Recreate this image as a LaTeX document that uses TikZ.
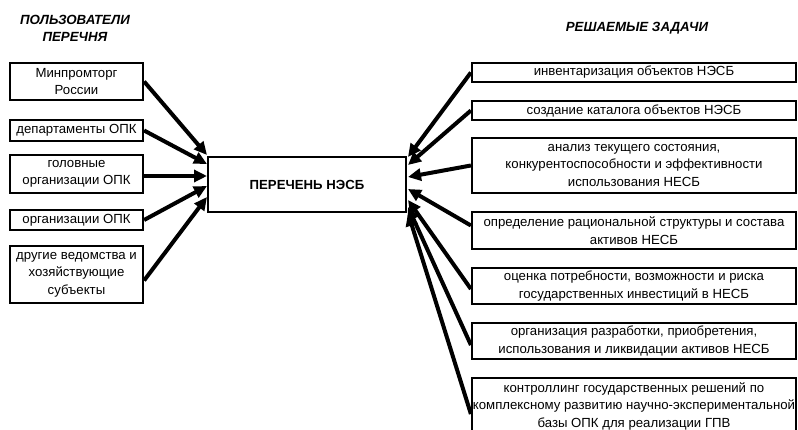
\documentclass[tikz,border=0pt]{standalone}
\usepackage{fontspec}
\setmainfont{Liberation Sans}
\usetikzlibrary{arrows.meta}
\begin{document}
\begin{tikzpicture}[x=1pt,y=-1pt,
  box/.style={draw,line width=2.2pt,inner sep=0pt,align=center,font=\fontsize{13.2}{17.5}\selectfont},
  title/.style={font=\fontsize{13.3}{17}\selectfont\bfseries\itshape,align=center},
  arr/.style={line width=4pt,-{Triangle[length=13pt,width=12pt]}}]
\useasboundingbox (0,0) rectangle (798,430);
% titles
\node[title] (t1) at (75,28.5) {ПОЛЬЗОВАТЕЛИ\\ПЕРЕЧНЯ};
\node[title] (t2) at (637,28) {РЕШАЕМЫЕ ЗАДАЧИ};
% left boxes
\node[box,minimum width=133pt,minimum height=37pt] (l1) at (76.5,81.5) {Минпромторг\\России};
\node[box,minimum width=133pt,minimum height=21pt] (l2) at (76.5,130.5) {департаменты ОПК};
\node[box,minimum width=133pt,minimum height=38pt] (l3) at (76.5,174) {головные\\организации ОПК};
\node[box,minimum width=133pt,minimum height=20pt] (l4) at (76.5,220) {организации ОПК};
\node[box,minimum width=133pt,minimum height=57pt] (l5) at (76.5,274.5) {другие ведомства и\\хозяйствующие\\субъекты};
% center
\node[box,minimum width=198pt,minimum height=55pt,font=\fontsize{13.2}{17.5}\selectfont\bfseries] (c) at (307,184.5) {ПЕРЕЧЕНЬ НЭСБ};
% right boxes
\node[box,minimum width=324pt,minimum height=19pt] (r1) at (634,72.5) {инвентаризация объектов НЭСБ};
\node[box,minimum width=324pt,minimum height=19pt] (r2) at (634,110.5) {создание каталога объектов НЭСБ};
\node[box,minimum width=324pt,minimum height=55pt] (r3) at (634,165.5) {анализ текущего состояния,\\конкурентоспособности и эффективности\\использования НЕСБ};
\node[box,minimum width=324pt,minimum height=37pt] (r4) at (634,230.5) {определение рациональной структуры и состава\\активов НЕСБ};
\node[box,minimum width=324pt,minimum height=36pt] (r5) at (634,286) {оценка потребности, возможности и риска\\государственных инвестиций в НЕСБ};
\node[box,minimum width=324pt,minimum height=36pt] (r6) at (634,341) {организация разработки, приобретения,\\использования и ликвидации активов НЕСБ};
\node[box,minimum width=324pt,minimum height=56pt] (r7) at (634,406) {контроллинг государственных решений по\\комплексному развитию научно-экспериментальной\\базы ОПК для реализации ГПВ};
% arrow target coordinates on the centre box
\coordinate (a1) at (207,155);
\coordinate (a2) at (207,164);
\coordinate (a3) at (207,176);
\coordinate (a4) at (207,186);
\coordinate (a5) at (207,197);
\coordinate (b1) at (408,157);
\coordinate (b2) at (408,165);
\coordinate (b3) at (408,177);
\coordinate (b4) at (408,189);
\coordinate (b5) at (408,200);
\coordinate (b6) at (408,207);
\coordinate (b7) at (408,213);
% left arrows
\draw[arr] (l1.east) -- (a1);
\draw[arr] (l2.east) -- (a2);
\draw[arr] (l3.east) ++(0,2) -- (a3);
\draw[arr] (l4.east) -- (a4);
\draw[arr] ([yshift=-6pt]l5.east) -- (a5);
% right arrows
\draw[arr] (r1.west) -- (b1);
\draw[arr] (r2.west) -- (b2);
\draw[arr] (r3.west) -- (b3);
\draw[arr] ([yshift=5pt]r4.west) -- (b4);
\draw[arr] ([yshift=-3pt]r5.west) -- (b5);
\draw[arr] ([yshift=-4pt]r6.west) -- (b6);
\draw[arr] ([yshift=-8pt]r7.west) -- (b7);
\end{tikzpicture}
\end{document}
